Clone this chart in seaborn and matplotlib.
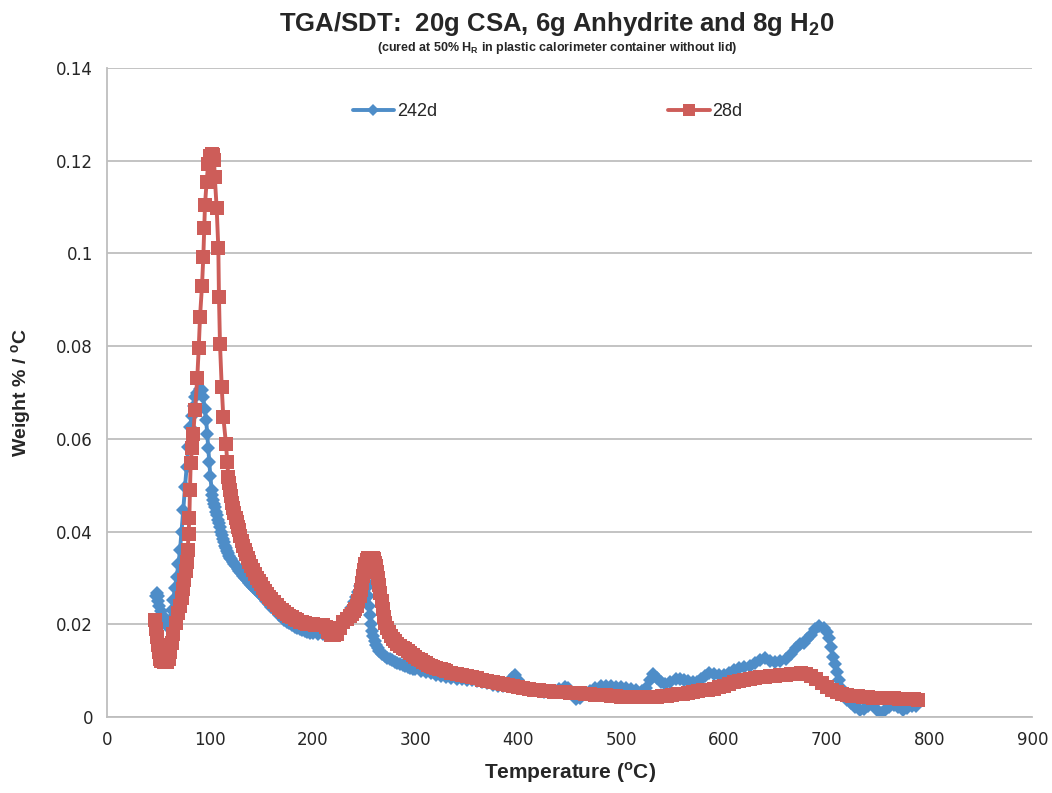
import numpy as np
import pandas as pd
import seaborn as sns
import matplotlib.pyplot as plt
from matplotlib import font_manager

# ---------------- data ----------------
temp_242d = [47.5, 48.3, 49.2, 50, 51, 52.5, 54, 56, 58, 59.6, 61.3, 63, 64.5, 66, 67.8,
             69.5, 71, 72.5, 74.2, 75.9, 77.5, 79.1, 80.7, 82.5, 84.3, 86, 88, 90, 92,
             93.5, 95, 96.5, 97.5, 98.5, 99.5,
             100.5, 101.8, 102.5, 103.5, 104.3, 105, 106, 107, 108, 109, 110, 111, 112,
             113, 114, 115, 116, 117, 118, 119, 120, 121, 122.5, 124, 125.5, 127, 128.5,
             130, 132, 134, 136, 138, 140, 142, 144, 146, 148, 150, 152.5, 155, 157.5,
             160, 162.5, 165, 167.5, 170, 172.5, 175, 177.5, 180, 182.5, 185, 187.5, 190,
             192.5, 195, 197.5, 200, 205, 210, 215, 220, 222.5, 225, 227.5, 230, 232.5,
             235, 237.5, 240, 242, 244, 246, 248, 249.5, 251, 252, 253, 254, 255, 256,
             257, 258, 259, 260.5, 262, 263.5, 265, 267.5, 270, 272.5, 275, 277.5, 280,
             282.5, 285, 287.5, 290, 292.5, 295, 297.5, 300,
             305, 310, 315, 320, 325, 330, 335, 340, 345, 350, 355, 360, 365,
             370, 375, 380, 385, 390, 394, 397, 400, 404, 410, 415, 420, 425, 430, 435,
             440, 445, 448, 452, 456, 460, 465, 470, 475, 480, 485, 490, 495, 500, 505,
             510, 515, 520, 524, 528, 531, 535, 539, 543, 548, 553, 557, 561, 565, 570,
             574, 578, 582, 586, 590, 595, 600, 605, 610, 615, 620, 625, 630, 635, 640,
             645, 650, 655, 660, 665, 670, 674, 678, 681, 685, 689, 693, 697, 700, 702,
             704, 706, 708, 710, 712, 714, 717, 720, 724, 728, 732, 736, 740, 745, 749,
             753, 757, 761, 765, 769, 774, 778, 783, 787]
weight_242d = [0.0262, 0.0267, 0.0262, 0.0250, 0.0240, 0.0228, 0.0218, 0.0206, 0.0198, 0.0195,
               0.0209, 0.0230, 0.0252, 0.0278, 0.0303, 0.0330, 0.0360, 0.0400, 0.0447, 0.0497,
               0.0540, 0.0583, 0.0625, 0.0650, 0.0672, 0.0690, 0.0700, 0.0708, 0.0705, 0.0690,
               0.0665, 0.0640, 0.0610, 0.0580, 0.0550,
               0.0520, 0.0490, 0.0478, 0.0468, 0.0460, 0.0452, 0.0443, 0.0435, 0.0426, 0.0418,
               0.0409, 0.0400, 0.0392, 0.0385, 0.0377, 0.0370, 0.0364, 0.0358, 0.0353, 0.0348,
               0.0344, 0.0340, 0.0335, 0.0330, 0.0325, 0.0320, 0.0315, 0.0311, 0.0305, 0.0300,
               0.0295, 0.0290, 0.0285, 0.0281, 0.0276, 0.0272, 0.0267, 0.0263, 0.0256, 0.0250,
               0.0244, 0.0238, 0.0232, 0.0226, 0.0220, 0.0215, 0.0210, 0.0206, 0.0202, 0.0198,
               0.0195, 0.0192, 0.0189, 0.0187, 0.0185, 0.0183, 0.0182, 0.0181, 0.0180, 0.0180,
               0.0182, 0.0187, 0.0190, 0.0195, 0.0201, 0.0208, 0.0216, 0.0225, 0.0236, 0.0248,
               0.0259, 0.0270, 0.0283, 0.0295, 0.0300, 0.0300, 0.0292, 0.0280, 0.0262, 0.0240,
               0.0220, 0.0200, 0.0186, 0.0175, 0.0164, 0.0155, 0.0148, 0.0143, 0.0137, 0.0132,
               0.0128, 0.0125, 0.0122, 0.0119, 0.0116, 0.0114, 0.0112, 0.0110, 0.0108, 0.0106,
               0.0104, 0.0103,
               0.0100, 0.0097, 0.0094, 0.0091, 0.0089, 0.0087, 0.0085, 0.0083, 0.0081, 0.0080,
               0.0079, 0.0077, 0.0075, 0.0073, 0.0070, 0.0068, 0.0066, 0.0070, 0.0085, 0.0090,
               0.0080, 0.0068, 0.0063, 0.0060, 0.0057, 0.0055, 0.0054, 0.0056, 0.0060, 0.0065,
               0.0062, 0.0050, 0.0038, 0.0042, 0.0050, 0.0056, 0.0062, 0.0067, 0.0068, 0.0066,
               0.0065, 0.0064, 0.0063, 0.0061, 0.0058, 0.0056, 0.0062, 0.0080, 0.0092, 0.0085,
               0.0075, 0.0072, 0.0075, 0.0081, 0.0083, 0.0080, 0.0077, 0.0075, 0.0076, 0.0082,
               0.0089, 0.0094, 0.0093, 0.0090, 0.0091, 0.0096, 0.0101, 0.0105, 0.0107, 0.0110,
               0.0116, 0.0122, 0.0127, 0.0120, 0.0119, 0.0121, 0.0125, 0.0135, 0.0148, 0.0157,
               0.0160, 0.0168, 0.0178, 0.0190, 0.0197, 0.0193, 0.0183, 0.0170, 0.0150, 0.0130,
               0.0115, 0.0098, 0.0080, 0.0062, 0.0048, 0.0037, 0.0030, 0.0022, 0.0015, 0.0018,
               0.0023, 0.0026, 0.0016, 0.0008, 0.0015, 0.0022, 0.0026, 0.0021, 0.0015, 0.0019,
               0.0024, 0.0024]

temp_28d = [46.7, 47.5, 48.5, 49.5, 50.5, 51.6, 53, 55, 56.5, 58.5, 60, 61.3, 63, 64.5, 67,
            69.4, 71, 72.7, 74, 75.2, 76.5, 77.5, 78.5, 79.3, 80.1, 80.7, 81.4, 82.7, 83.9,
            85.6, 87.8, 89.2, 90.5, 92.4, 93.7, 94.6, 95.3, 96.9, 98.5, 100.3, 101.8, 102.8,
            104.1, 104.8, 106.7, 108.3, 108.9, 109.9, 111.6, 113.1, 115.7, 117,
            118, 119, 120, 121, 122, 123, 124, 125, 126, 127, 128, 129.5, 131, 132.5, 134,
            135.5, 137, 138.5, 140, 142, 144, 146, 148, 150, 152, 154, 156, 158, 160, 162.5,
            165, 167.5, 170, 172.5, 175, 177.5, 180, 182.5, 185, 187.5, 190, 192.5, 195,
            197.5, 200, 202.5, 205, 207.5, 210, 213, 215, 218, 221, 224, 227, 230, 233, 236,
            238, 240, 241.5, 243, 244.5, 246, 247, 248, 249, 250, 251, 252.5, 254, 255.5,
            257, 258.5, 260, 261, 262, 263, 264, 265, 266, 267, 268, 269, 270.5, 272, 274,
            276, 278, 280, 282.5, 285, 287.5, 290, 292.5, 295, 297.5, 300, 302.5, 305,
            307.5, 310, 312.5, 315, 317.5, 320, 322.5, 325, 327.5, 330,
            335, 340, 345, 350,
            355, 360, 365, 370, 375, 380, 385, 390, 395, 400, 405, 410, 415, 420, 425, 430,
            435, 440, 445, 450, 455, 460, 465, 470, 475, 480, 485, 490, 495, 500, 505, 510,
            515, 520, 525, 530, 535, 540, 545, 550, 555, 560, 565, 570, 575, 580, 585, 590,
            595, 600, 605, 610, 615, 620, 625, 630, 635, 640, 645, 650, 655, 660, 665, 670,
            675, 680, 685, 690, 695, 700, 705, 710, 715, 720, 725, 730, 735, 740, 745, 750,
            755, 760, 765, 770, 775, 780, 785, 789]
weight_28d = [0.0209, 0.0190, 0.0172, 0.0155, 0.0140, 0.0125, 0.0120, 0.0118, 0.0118, 0.0119,
              0.0125, 0.0140, 0.0160, 0.0180, 0.0202, 0.0224, 0.0240, 0.0256, 0.0276, 0.0296,
              0.0316, 0.0335, 0.0360, 0.0395, 0.0429, 0.0490, 0.0547, 0.0580, 0.0610, 0.0662,
              0.0731, 0.0795, 0.0864, 0.0930, 0.0993, 0.1054, 0.1104, 0.1155, 0.1194, 0.1210,
              0.1214, 0.1212, 0.1202, 0.1166, 0.1097, 0.1011, 0.0907, 0.0805, 0.0712, 0.0648,
              0.0590, 0.0551,
              0.0518, 0.0504, 0.0490, 0.0476, 0.0462, 0.0451, 0.0440, 0.0430, 0.0420, 0.0411,
              0.0403, 0.0391, 0.0380, 0.0370, 0.0360, 0.0351, 0.0342, 0.0334, 0.0326, 0.0317,
              0.0308, 0.0300, 0.0293, 0.0286, 0.0279, 0.0272, 0.0266, 0.0260, 0.0255, 0.0248,
              0.0242, 0.0236, 0.0231, 0.0226, 0.0222, 0.0218, 0.0215, 0.0212, 0.0209, 0.0206,
              0.0204, 0.0202, 0.0201, 0.0200, 0.0200, 0.0199, 0.0199, 0.0198, 0.0198, 0.0195,
              0.0183, 0.0176, 0.0176, 0.0180, 0.0192, 0.0205, 0.0212, 0.0219, 0.0223, 0.0228,
              0.0234, 0.0240, 0.0250, 0.0262, 0.0275, 0.0290, 0.0305, 0.0318, 0.0330, 0.0338,
              0.0342, 0.0343, 0.0343, 0.0342, 0.0340, 0.0333, 0.0325, 0.0313, 0.0300, 0.0285,
              0.0268, 0.0250, 0.0232, 0.0216, 0.0203, 0.0193, 0.0183, 0.0175, 0.0169, 0.0163,
              0.0158, 0.0153, 0.0149, 0.0146, 0.0142, 0.0138, 0.0134, 0.0130, 0.0126, 0.0122,
              0.0119, 0.0116, 0.0113, 0.0110, 0.0108, 0.0106, 0.0104, 0.0103, 0.0101, 0.0100,
              0.0096, 0.0093, 0.0091, 0.0089,
              0.0087, 0.0085, 0.0080, 0.0077, 0.0075, 0.0073, 0.0071, 0.0069, 0.0067, 0.0064,
              0.0062, 0.0060, 0.0059, 0.0058, 0.0057, 0.0056, 0.0055, 0.0054, 0.0053, 0.0052,
              0.0052, 0.0051, 0.0050, 0.0049, 0.0048, 0.0047, 0.0047, 0.0046, 0.0045, 0.0044,
              0.0044, 0.0043, 0.0043, 0.0043, 0.0043, 0.0043, 0.0044, 0.0045, 0.0046, 0.0048,
              0.0049, 0.0050, 0.0052, 0.0055, 0.0057, 0.0058, 0.0059, 0.0061, 0.0064, 0.0068,
              0.0072, 0.0075, 0.0078, 0.0080, 0.0082, 0.0084, 0.0086, 0.0087, 0.0088, 0.0089,
              0.0090, 0.0091, 0.0092, 0.0093, 0.0094, 0.0093, 0.0089, 0.0082, 0.0074, 0.0065,
              0.0058, 0.0054, 0.0050, 0.0048, 0.0046, 0.0045, 0.0044, 0.0043, 0.0042, 0.0041,
              0.0041, 0.0040, 0.0040, 0.0039, 0.0039, 0.0038, 0.0038, 0.0037]

sample_names = ['242d', '28d']
x_ticks = [0, 100, 200, 300, 400, 500, 600, 700, 800, 900]
y_ticks = [0, 0.02, 0.04, 0.06, 0.08, 0.1, 0.12, 0.14]
y_ticklabels = ['0', '0.02', '0.04', '0.06', '0.08', '0.1', '0.12', '0.14']

df = pd.concat([
    pd.DataFrame({'temperature': temp_242d, 'weight': weight_242d, 'sample': '242d'}),
    pd.DataFrame({'temperature': temp_28d, 'weight': weight_28d, 'sample': '28d'}),
], ignore_index=True)

# ---------------- style ----------------
sns.set_style('white')
narrow = [f for f in ['Liberation Sans Narrow', 'Liberation Sans'] if any(
    f == e.name for e in font_manager.fontManager.ttflist)]
text_font = narrow + ['DejaVu Sans']
plt.rcParams['font.family'] = ['DejaVu Sans']

blue = '#4E8DC8'
red = '#CD5D59'
grid_col = '#BEBEBE'

fig = plt.figure(figsize=(10.52, 7.93), dpi=100)
ax = fig.add_axes([0.1017, 0.0958, 0.8796, 0.8184])

sns.lineplot(data=df, x='temperature', y='weight', hue='sample', style='sample',
             hue_order=sample_names, style_order=sample_names,
             palette={'242d': blue, '28d': red},
             markers={'242d': 'D', '28d': 's'}, dashes=False,
             sort=False, estimator=None, linewidth=2.8,
             markersize=8, markeredgewidth=0, ax=ax)

# Excel-like marker sizes: diamonds a bit smaller than squares
# (seaborn draws one Line2D per sample, in hue order)
marker_size = {'242d': 7.4, '28d': 9.6}
for line, name in zip(ax.lines[:2], sample_names):
    line.set_markersize(marker_size[name])

ax.set_xlim(0, 900)
ax.set_ylim(0, 0.14)
ax.set_xticks(x_ticks)
ax.set_yticks(y_ticks)
ax.set_yticklabels(y_ticklabels)
ax.yaxis.grid(True, color=grid_col, linewidth=1.3)
ax.set_axisbelow(True)
for s in ['top', 'right']:
    ax.spines[s].set_visible(False)
for s in ['left', 'bottom']:
    ax.spines[s].set_color(grid_col)
    ax.spines[s].set_linewidth(1.3)
ax.tick_params(axis='both', direction='out', length=5, width=1.3, color=grid_col,
               labelsize=12, pad=5)

ax.set_xlabel('Temperature ($^{\\mathregular{o}}$C)', fontsize=15, fontweight='bold',
              family=text_font, labelpad=8)
ax.set_ylabel('Weight % / $^{\\mathregular{o}}$C', fontsize=14, fontweight='bold',
              family=text_font, labelpad=16)

handles, labels = ax.get_legend_handles_labels()
for h, name in zip(handles, labels):
    if name in marker_size:
        h.set_markersize(marker_size[name] * 0.85)
leg = ax.legend(handles, labels, loc='center', bbox_to_anchor=(0.5204, 0.8588),
                bbox_transform=fig.transFigure, ncol=2, frameon=False,
                handlelength=2.3, handletextpad=0.15, columnspacing=12.8,
                prop={'family': text_font, 'size': 13})

fig.text(0.5295, 0.970, 'TGA/SDT:  20g CSA, 6g Anhydrite and 8g H$_{\\mathregular{2}}$0',
         ha='center', va='center', fontsize=18.5, fontweight='bold', family=text_font)
fig.text(0.5295, 0.940, '(cured at 50% H$_{\\mathregular{R}}$ in plastic calorimeter container without lid)',
         ha='center', va='center', fontsize=9, fontweight='bold', family=text_font)

fig.savefig('out.png', dpi=100)
